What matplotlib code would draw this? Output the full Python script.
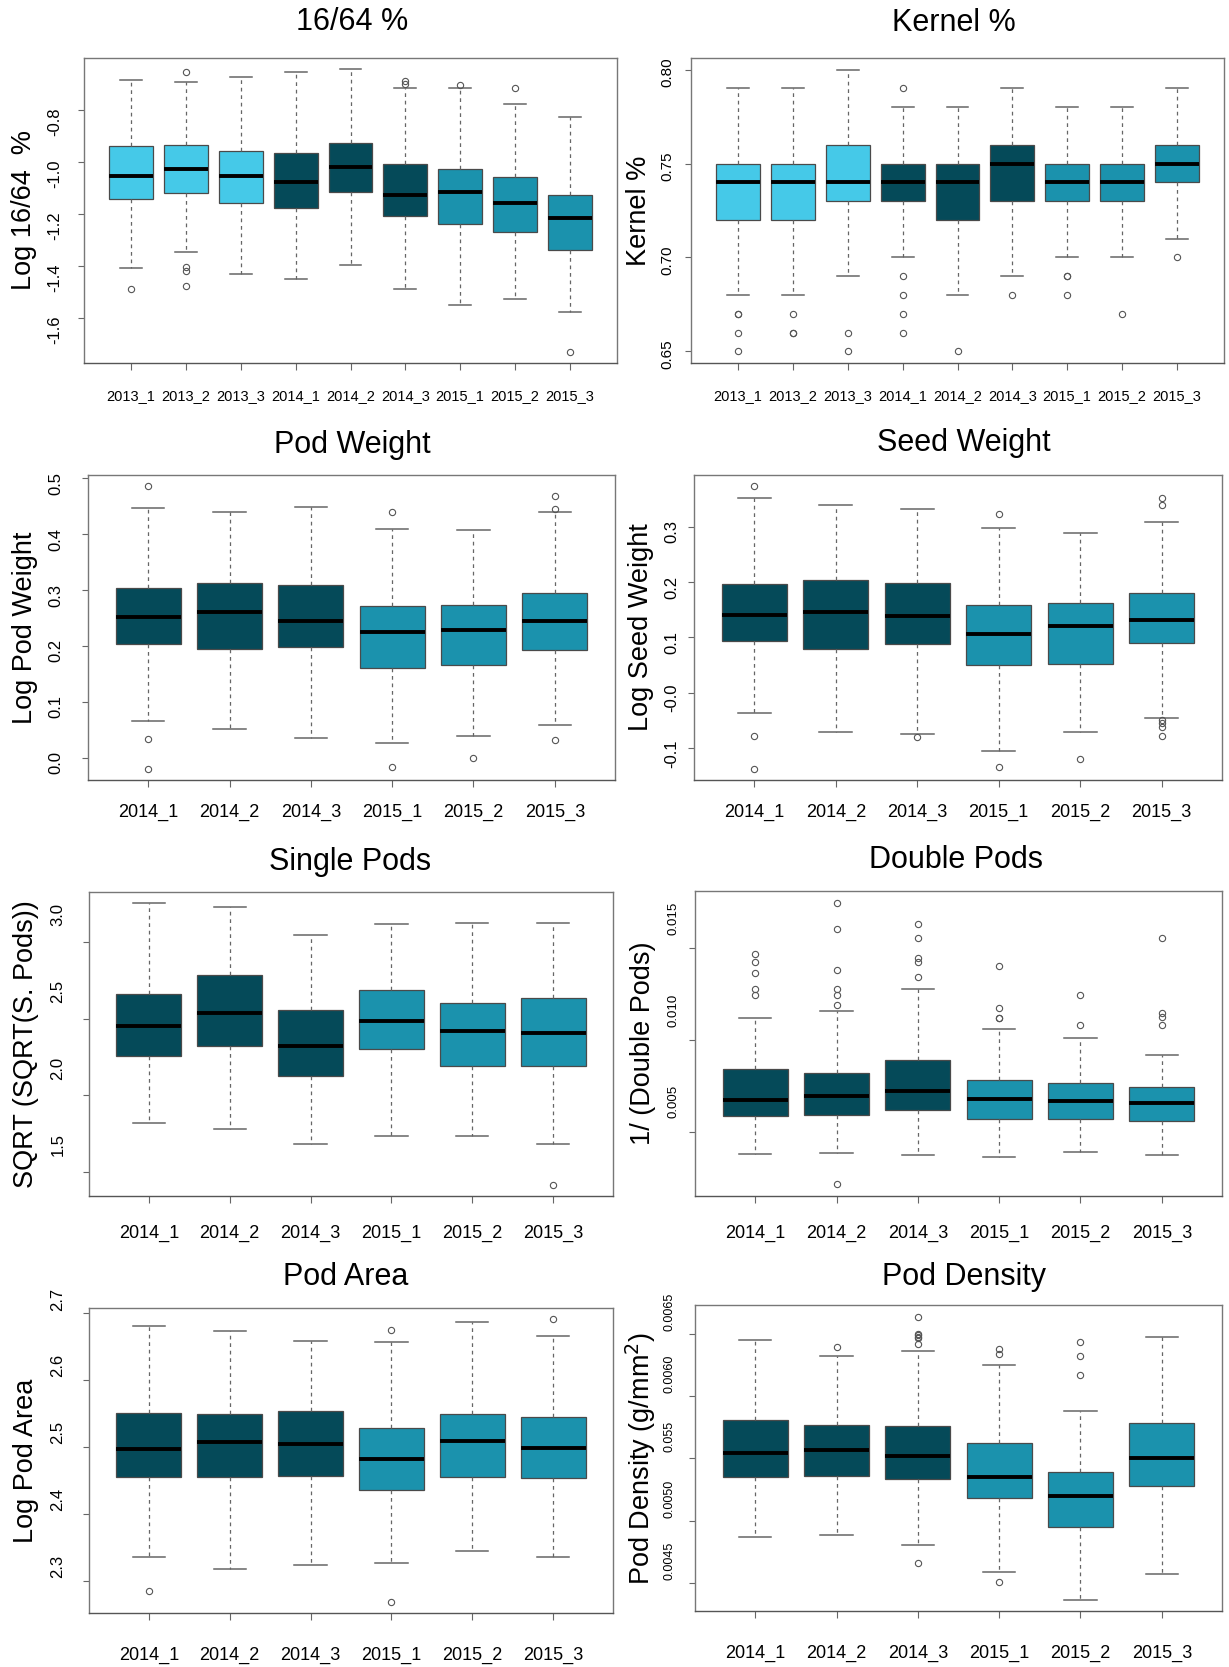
import matplotlib.pyplot as plt
from matplotlib.transforms import ScaledTranslation

plt.rcParams['font.family'] = ['Liberation Sans', 'DejaVu Sans']

# groups and colours
groups9 = ['2013_1', '2013_2', '2013_3', '2014_1', '2014_2', '2014_3', '2015_1', '2015_2', '2015_3']
groups6 = ['2014_1', '2014_2', '2014_3', '2015_1', '2015_2', '2015_3']
LIGHT, DARK, MID = '#45C9E8', '#054A59', '#1B92AD'
colors9 = [LIGHT] * 3 + [DARK] * 3 + [MID] * 3
colors6 = [DARK] * 3 + [MID] * 3

# 16/64 %
p1_lo = [-1.409, -1.349, -1.431, -1.450, -1.399, -1.490, -1.550, -1.529, -1.579]
p1_q1 = [-1.142, -1.122, -1.158, -1.179, -1.118, -1.209, -1.238, -1.269, -1.338]
p1_med = [-1.056, -1.027, -1.056, -1.077, -1.022, -1.128, -1.118, -1.158, -1.218]
p1_q3 = [-0.941, -0.937, -0.958, -0.968, -0.926, -1.008, -1.028, -1.059, -1.128]
p1_hi = [-0.685, -0.695, -0.674, -0.654, -0.644, -0.715, -0.715, -0.777, -0.826]
p1_out = [[-1.490], [-0.655, -1.406, -1.419, -1.479], [], [], [], [-0.688, -0.700],
          [-0.705], [-0.715], [-1.732]]

# Kernel %
k_lo = [0.68, 0.68, 0.69, 0.70, 0.68, 0.69, 0.70, 0.70, 0.71]
k_q1 = [0.72, 0.72, 0.73, 0.73, 0.72, 0.73, 0.73, 0.73, 0.74]
k_med = [0.74, 0.74, 0.74, 0.74, 0.74, 0.75, 0.74, 0.74, 0.75]
k_q3 = [0.75, 0.75, 0.76, 0.75, 0.75, 0.76, 0.75, 0.75, 0.76]
k_hi = [0.79, 0.79, 0.80, 0.78, 0.78, 0.79, 0.78, 0.78, 0.79]
k_out = [[0.67, 0.67, 0.66, 0.65], [0.67, 0.66, 0.66], [0.66, 0.65],
         [0.79, 0.69, 0.68, 0.67, 0.66], [0.65], [0.68], [0.69, 0.69, 0.68], [0.67], [0.70]]

# Pod Weight
pw_lo = [0.066, 0.051, 0.036, 0.027, 0.038, 0.058]
pw_q1 = [0.203, 0.195, 0.198, 0.161, 0.166, 0.193]
pw_med = [0.251, 0.260, 0.245, 0.225, 0.229, 0.244]
pw_q3 = [0.303, 0.312, 0.309, 0.272, 0.273, 0.294]
pw_hi = [0.447, 0.439, 0.449, 0.409, 0.408, 0.440]
pw_out = [[0.486, 0.033, -0.020], [], [], [0.439, -0.016], [-0.001], [0.468, 0.445, 0.032]]

# Seed Weight
sw_lo = [-0.037, -0.070, -0.074, -0.104, -0.070, -0.045]
sw_q1 = [0.094, 0.080, 0.088, 0.051, 0.053, 0.090]
sw_med = [0.141, 0.146, 0.139, 0.106, 0.120, 0.132]
sw_q3 = [0.197, 0.204, 0.198, 0.159, 0.162, 0.180]
sw_hi = [0.351, 0.338, 0.332, 0.298, 0.288, 0.309]
sw_out = [[0.373, -0.077, -0.137], [], [-0.080], [0.322, -0.133], [-0.120],
          [0.352, 0.338, -0.049, -0.055, -0.062, -0.077]]

# Single Pods
sp_lo = [1.822, 1.780, 1.685, 1.735, 1.735, 1.685]
sp_q1 = [2.257, 2.320, 2.126, 2.300, 2.191, 2.191]
sp_med = [2.450, 2.539, 2.322, 2.485, 2.417, 2.409]
sp_q3 = [2.661, 2.785, 2.554, 2.685, 2.604, 2.633]
sp_hi = [3.257, 3.226, 3.046, 3.115, 3.122, 3.122]
sp_out = [[], [], [], [], [], [1.417]]

# Double Pods
dp_lo = [0.00380, 0.00384, 0.00373, 0.00362, 0.00389, 0.00375]
dp_q1 = [0.00584, 0.00593, 0.00618, 0.00571, 0.00571, 0.00560]
dp_med = [0.00673, 0.00696, 0.00724, 0.00676, 0.00667, 0.00656]
dp_q3 = [0.00840, 0.00822, 0.00891, 0.00782, 0.00764, 0.00745]
dp_hi = [0.01122, 0.01160, 0.01278, 0.01060, 0.01009, 0.00916]
dp_out = [[0.01467, 0.01424, 0.01364, 0.01278, 0.01247],
          [0.01749, 0.01607, 0.01384, 0.01278, 0.01247, 0.01191, 0.00213],
          [0.01635, 0.01558, 0.01445, 0.01424, 0.01345],
          [0.01405, 0.01173, 0.01122, 0.01118],
          [0.01247, 0.01084],
          [0.01558, 0.01149, 0.01124, 0.01084]]

# Pod Area
pa_lo = [2.336, 2.318, 2.323, 2.326, 2.345, 2.335]
pa_q1 = [2.455, 2.455, 2.457, 2.436, 2.455, 2.454]
pa_med = [2.497, 2.507, 2.504, 2.482, 2.508, 2.498]
pa_q3 = [2.550, 2.549, 2.553, 2.528, 2.549, 2.545]
pa_hi = [2.681, 2.673, 2.658, 2.657, 2.686, 2.666]
pa_out = [[2.285], [], [], [2.674, 2.268], [], [2.691]]

# Pod Density
pd_lo = [0.004868, 0.004887, 0.004801, 0.004586, 0.004358, 0.004570]
pd_q1 = [0.005351, 0.005359, 0.005338, 0.005185, 0.004951, 0.005279]
pd_med = [0.005542, 0.005568, 0.005517, 0.005348, 0.005201, 0.005499]
pd_q3 = [0.005805, 0.005770, 0.005759, 0.005625, 0.005394, 0.005781]
pd_hi = [0.006454, 0.006323, 0.006360, 0.006248, 0.005880, 0.006476]
pd_out = [[], [0.006398], [0.006637, 0.006503, 0.006492, 0.006479, 0.006465, 0.006417, 0.004661],
          [0.006382, 0.006342, 0.004508], [0.006438, 0.006320, 0.006170], []]

W, H = 1229, 1667
fig = plt.figure(figsize=(W / 100, H / 100), dpi=100)


def panel(box, title, title_xy, ylabel, ylabel_x, groups, colors, stats,
          ylim, yticks, yticklabels, ysize, ypad, yshift, xsize, xpad):
    l, t, r, b = box
    ax = fig.add_axes([l / W, 1 - b / H, (r - l) / W, (b - t) / H])
    lo, q1, med, q3, hi, out = stats
    bstats = [dict(whislo=lo[i], q1=q1[i], med=med[i], q3=q3[i], whishi=hi[i],
                   fliers=out[i], label=groups[i]) for i in range(len(groups))]
    n = len(groups)
    res = ax.bxp(bstats, positions=range(1, n + 1), widths=0.8, patch_artist=True,
                 boxprops=dict(edgecolor='#4a4a4a', linewidth=0.9),
                 medianprops=dict(color='black', linewidth=2.8),
                 whiskerprops=dict(color='#666666', linewidth=0.9, linestyle=(0, (3, 3))),
                 capprops=dict(color='#666666', linewidth=1.1),
                 capwidths=0.4,
                 flierprops=dict(marker='o', markersize=4.5, markerfacecolor='none',
                                 markeredgecolor='#555555', markeredgewidth=0.8))
    for patch, c in zip(res['boxes'], colors):
        patch.set_facecolor(c)
    ax.set_xlim(0.5 - 0.04 * n, n + 0.5 + 0.04 * n)
    ax.set_ylim(*ylim)
    ax.set_yticks(yticks)
    ax.set_yticklabels(yticklabels)
    ax.tick_params(axis='y', labelrotation=90, labelsize=ysize, pad=ypad,
                   length=4, color='#666666')
    ax.tick_params(axis='x', labelsize=xsize, pad=xpad, length=5, color='#666666')
    for lab in ax.get_yticklabels():
        lab.set_verticalalignment('center')
        lab.set_transform(lab.get_transform() + ScaledTranslation(0, -yshift / 100, fig.dpi_scale_trans))
    for sp in ax.spines.values():
        sp.set_color('#777777')
        sp.set_linewidth(1.0)
    ax.spines['bottom'].set_color('#555555')
    fig.text(title_xy[0] / W, 1 - title_xy[1] / H, title, ha='center', va='center', fontsize=22)
    fig.text(ylabel_x / W, 1 - (t + b) / 2 / H, ylabel, ha='center', va='center',
             rotation=90, fontsize=19.5)
    return ax


panel((84, 58, 617, 363), '16/64 %', (352, 22), 'Log 16/64  %', 24, groups9, colors9,
      (p1_lo, p1_q1, p1_med, p1_q3, p1_hi, p1_out), (-1.774, -0.601),
      [-1.6, -1.4, -1.2, -1.0, -0.8], ['-1.6', '-1.4', '-1.2', '-1.0', '-0.8'],
      12, 12, 12, 10.5, 14)
panel((691, 58, 1224, 363), 'Kernel %', (954, 23), 'Kernel %', 639, groups9, colors9,
      (k_lo, k_q1, k_med, k_q3, k_hi, k_out), (0.6438, 0.8062),
      [0.65, 0.70, 0.75, 0.80], ['0.65', '0.70', '0.75', '0.80'],
      11, 8, 3, 10.5, 14)
panel((88, 475, 615, 780), 'Pod Weight', (352, 445), 'Log Pod Weight', 25, groups6, colors6,
      (pw_lo, pw_q1, pw_med, pw_q3, pw_hi, pw_out), (-0.040, 0.506),
      [0.0, 0.1, 0.2, 0.3, 0.4, 0.5], ['0.0', '0.1', '0.2', '0.3', '0.4', '0.5'],
      12, 14, 5, 13, 12)
panel((694, 475, 1222, 780), 'Seed Weight', (964, 443), 'Log Seed Weight', 641, groups6, colors6,
      (sw_lo, sw_q1, sw_med, sw_q3, sw_hi, sw_out), (-0.157, 0.393),
      [-0.1, 0.0, 0.1, 0.2, 0.3], ['-0.1', '-0.0', '0.1', '0.2', '0.3'],
      12, 6.5, 5, 13, 12)
panel((89, 892, 613, 1196), 'Single Pods', (350, 862), 'SQRT (SQRT(S. Pods))', 26, groups6, colors6,
      (sp_lo, sp_q1, sp_med, sp_q3, sp_hi, sp_out), (1.343, 3.326),
      [1.5, 2.0, 2.5, 3.0], ['1.5', '2.0', '2.5', '3.0'],
      12, 13, -27, 13, 16)
panel((695, 891, 1222, 1196), 'Double Pods', (956, 860), '1/ (Double Pods)', 643, groups6, colors6,
      (dp_lo, dp_q1, dp_med, dp_q3, dp_hi, dp_out), (0.00149, 0.01813),
      [0.005, 0.010, 0.015], ['0.005', '0.010', '0.015'],
      9.5, 7, -30, 13, 16)
panel((89, 1308, 613, 1613), 'Pod Area', (346, 1277), 'Log Pod Area', 26, groups6, colors6,
      (pa_lo, pa_q1, pa_med, pa_q3, pa_hi, pa_out), (2.2517, 2.7075),
      [2.3, 2.4, 2.5, 2.6, 2.7], ['2.3', '2.4', '2.5', '2.6', '2.7'],
      12, 13, -14, 13, 19)
panel((695, 1305, 1222, 1611), 'Pod Density', (964, 1277), 'Pod Density (g/mm$^2$)', 641, groups6, colors6,
      (pd_lo, pd_q1, pd_med, pd_q3, pd_hi, pd_out), (0.004272, 0.006734),
      [0.0045, 0.0050, 0.0055, 0.0060, 0.0065], ['0.0045', '0.0050', '0.055', '0.0060', '0.0065'],
      9, 10, -22, 13, 19)

fig.savefig('out.png', dpi=100)
